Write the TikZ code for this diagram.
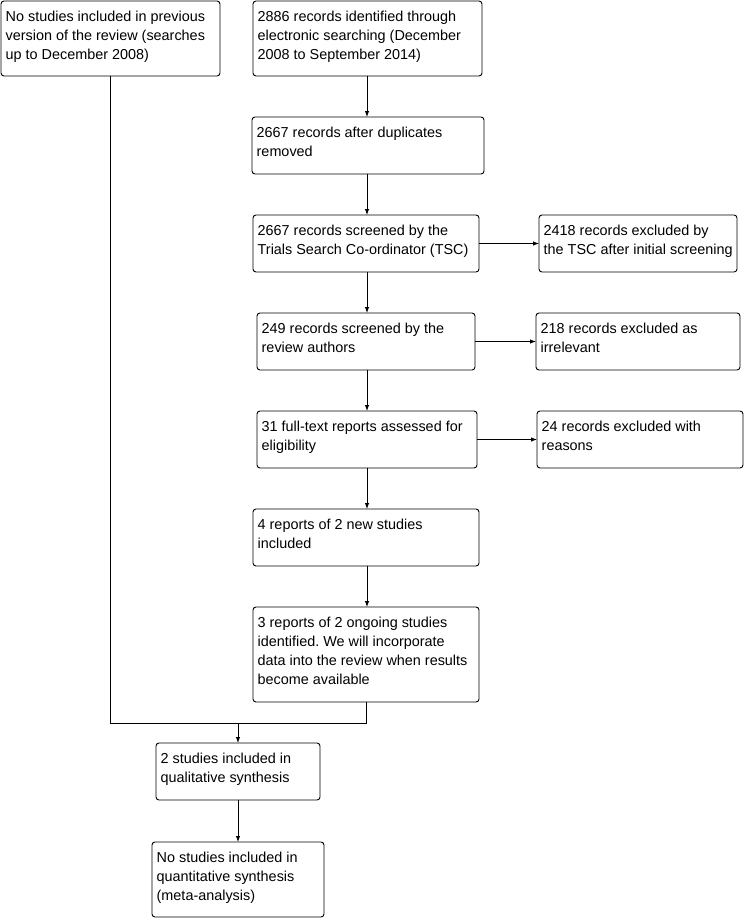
\documentclass[tikz,border=0pt]{standalone}
\usepackage{fontspec}
\setmainfont{Liberation Sans}
\frenchspacing
\usetikzlibrary{arrows.meta}
\newcommand\flowbox[6]{%
  \node[box, minimum width=#4pt, minimum height=#5pt] (#1) at (#2,#3) {};
  \node[txt] (#1t) at ({#2+4.5},{#3+6.7}) {\strut #6};}
\begin{document}
\begin{tikzpicture}[x=1pt,y=-1pt,
  box/.style={draw, line width=0.9pt, rounded corners=3pt, anchor=north west, inner sep=0pt, outer sep=0pt},
  txt/.style={anchor=north west, inner sep=0pt, align=left, font=\fontsize{14.4}{19}\selectfont},
  conn/.style={line width=0.9pt},
  arr/.style={conn, -{Latex[length=6pt,width=4.5pt]}}]
\useasboundingbox (0,0) rectangle (744,918);
\flowbox{b1}{1}{1}{219}{75}{No studies included in previous\\version of the review (searches\\up to December 2008)}
\flowbox{b2}{253}{1}{229}{75}{2886 records identified through\\electronic searching (December\\2008 to September 2014)}
\flowbox{b3}{252}{117}{232}{57}{2667 records after duplicates\\removed}
\flowbox{b4}{253}{215}{226}{57}{2667 records screened by the\\Trials Search Co-ordinator (TSC)}
\flowbox{b5}{539}{215}{198}{57}{2418 records excluded by\\the TSC after initial screening}
\flowbox{b6}{257}{313}{218}{57}{249 records screened by the\\review authors}
\flowbox{b7}{536}{313}{204}{57}{218 records excluded as\\irrelevant}
\flowbox{b8}{257}{411}{220}{57}{31 full-text reports assessed for\\eligibility}
\flowbox{b9}{537}{411}{206}{57}{24 records excluded with\\reasons}
\flowbox{b10}{253}{509}{226}{57}{4 reports of 2 new studies\\included}
\flowbox{b11}{253}{607}{226}{95}{3 reports of 2 ongoing studies\\identified. We will incorporate\\data into the review when results\\become available}
\flowbox{b12}{156}{743}{164}{57}{2 studies included in\\qualitative synthesis}
\flowbox{b13}{152}{842}{172}{75}{No studies included in\\quantitative synthesis\\(meta-analysis)}
\coordinate (mx) at (367,0);
\coordinate (jl) at (110.5,723);
\coordinate (jr) at (366,723);
\coordinate (jm) at (238,723);
\draw[arr] (b2.south -| mx) -- (b3.north -| mx);
\draw[arr] (b3.south -| mx) -- (b4.north -| mx);
\draw[arr] (b4.south -| mx) -- (b6.north -| mx);
\draw[arr] (b6.south -| mx) -- (b8.north -| mx);
\draw[arr] (b8.south -| mx) -- (b10.north -| mx);
\draw[arr] (b10.south -| mx) -- (b11.north -| mx);
\draw[arr] (b4.east) -- (b5.west);
\draw[arr] (b6.east) -- (b7.west);
\draw[arr] (b8.east) -- (b8.east -| b9.west);
\draw[conn] (b1.south) -- (jl) -- (jr) -- (b11.south -| jr);
\draw[arr] (jm) -- (b12.north);
\draw[arr] (b12.south) -- (b13.north);
\end{tikzpicture}
\end{document}
